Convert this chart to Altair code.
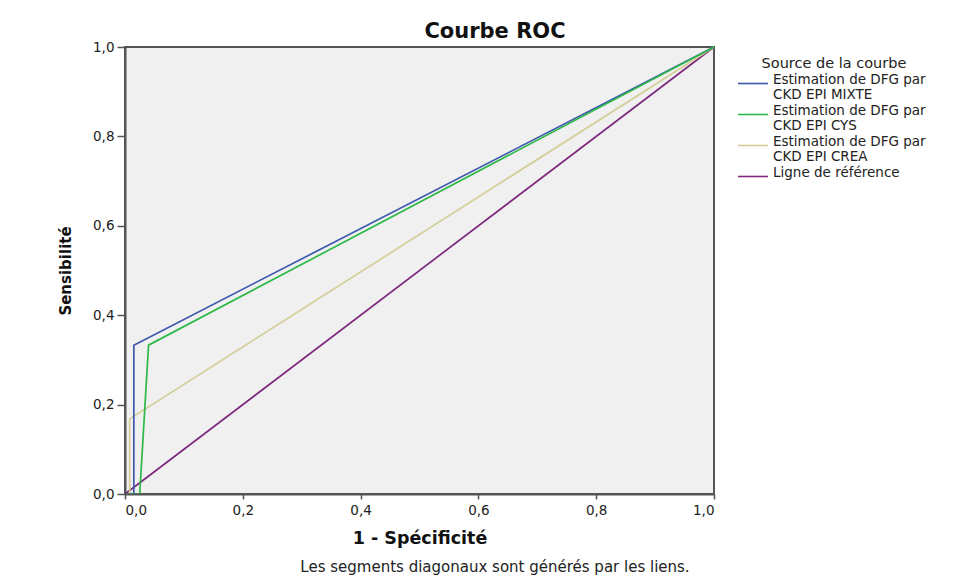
import altair as alt
import pandas as pd

# ---- data ----
series_names = [
    "Estimation de DFG par|CKD EPI MIXTE",
    "Estimation de DFG par|CKD EPI CYS",
    "Estimation de DFG par|CKD EPI CREA",
    "Ligne de référence",
]
series_colors = ["#3E58AC", "#2EB848", "#D3CE97", "#7C287D"]

mixte_x = [0.0, 0.015, 0.015, 1.0]
mixte_y = [0.0, 0.0, 0.333, 1.0]
cys_x = [0.0, 0.025, 0.040, 1.0]
cys_y = [0.0, 0.0, 0.333, 1.0]
crea_x = [0.0, 0.008, 0.008, 1.0]
crea_y = [0.0, 0.0, 0.168, 1.0]
ref_x = [0.0, 1.0]
ref_y = [0.0, 1.0]

tick_values = [0.0, 0.2, 0.4, 0.6, 0.8, 1.0]
chart_title = "Courbe ROC"
footnote = "Les segments diagonaux sont générés par les liens."

FONT = "DejaVu Sans"

rows = []
for name, xs, ys in [
    (series_names[3], ref_x, ref_y),
    (series_names[2], crea_x, crea_y),
    (series_names[0], mixte_x, mixte_y),
    (series_names[1], cys_x, cys_y),
]:
    for i, (a, b) in enumerate(zip(xs, ys)):
        rows.append({"serie": name, "fpr": a, "tpr": b, "step": i})
df = pd.DataFrame(rows)

label_expr = "replace(format(datum.value, '.1f'), '.', ',')"

lines = alt.Chart(df).mark_line(strokeWidth=1.7).encode(
    x=alt.X(
        "fpr:Q",
        scale=alt.Scale(domain=[0, 1], nice=False),
        axis=alt.Axis(
            title="1 - Spécificité",
            values=tick_values,
            labelExpr=label_expr,
            grid=False,
            domainColor="#555555",
            domainWidth=2,
            tickColor="#555555",
            tickWidth=1.5,
            tickSize=5,
            labelPadding=4,
            labelFont=FONT,
            labelFontSize=13.5,
            labelColor="#222222",
            titleFont=FONT,
            titleFontSize=17.5,
            titleFontWeight="bold",
            titleColor="#111111",
            titlePadding=13,
            zindex=1,
        ),
    ),
    y=alt.Y(
        "tpr:Q",
        scale=alt.Scale(domain=[0, 1], nice=False),
        axis=alt.Axis(
            title="Sensibilité",
            values=tick_values,
            labelExpr=label_expr,
            grid=False,
            domainColor="#555555",
            domainWidth=2,
            tickColor="#555555",
            tickWidth=1.5,
            tickSize=8,
            labelPadding=3,
            labelFont=FONT,
            labelFontSize=13.5,
            labelColor="#222222",
            titleFont=FONT,
            titleFontSize=15,
            titleFontWeight="bold",
            titleColor="#111111",
            titlePadding=19,
            zindex=1,
        ),
    ),
    color=alt.Color(
        "serie:N",
        scale=alt.Scale(domain=series_names, range=series_colors),
        legend=alt.Legend(
            title="Source de la courbe",
            orient="none",
            legendX=617,
            legendY=10,
            padding=0,
            titleFont=FONT,
            titleFontSize=14.5,
            titleFontWeight="normal",
            titleColor="#222222",
            titleAnchor="middle",
            titlePadding=1,
            labelFont=FONT,
            labelFontSize=13.5,
            labelColor="#222222",
            labelExpr="split(datum.label, '|')",
            labelBaseline="alphabetic",
            labelOffset=9,
            labelLimit=300,
            symbolType="M-1.5,0H1.5",
            symbolSize=400,
            symbolStrokeWidth=1.6,
            rowPadding=2,
        ),
    ),
    order="step:Q",
)

title_mark = alt.Chart(pd.DataFrame({"t": [chart_title]})).mark_text(
    font=FONT, fontSize=21, fontWeight="bold", color="#111111",
    align="center", baseline="middle",
).encode(
    x=alt.value(370),
    y=alt.value(-15),
    text="t:N",
)

note = alt.Chart(pd.DataFrame({"t": [footnote]})).mark_text(
    font=FONT, fontSize=15, color="#222222", align="center", baseline="middle"
).encode(
    x=alt.value(370),
    y=alt.value(520),
    text="t:N",
)

chart = alt.layer(lines, title_mark, note).properties(
    width=589,
    height=447,
    autosize=alt.AutoSizeParams(type="none"),
    padding={"left": 117, "top": 39, "right": 240, "bottom": 82},
    background="white",
).configure_view(
    fill="#F0F0F0", stroke="#555555", strokeWidth=2, strokeOpacity=1
)

chart.save("out.html", embed_options={"renderer": "svg", "actions": False})
